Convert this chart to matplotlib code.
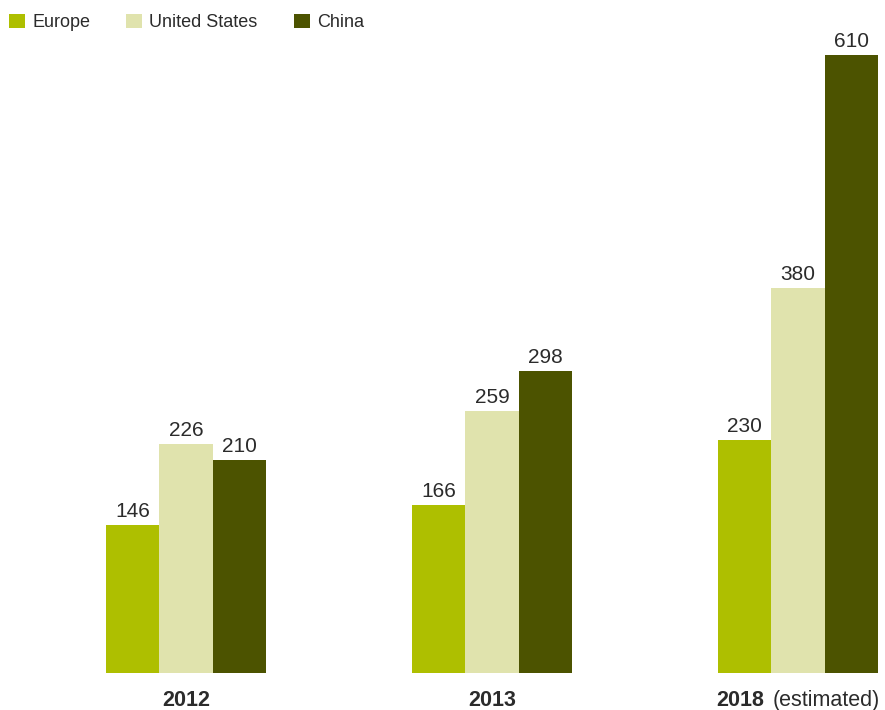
import matplotlib
matplotlib.use("Agg")
import matplotlib.pyplot as plt
from matplotlib.patches import Patch
from matplotlib.offsetbox import TextArea, HPacker, AnnotationBbox

plt.rcParams['font.family'] = ['Liberation Sans', 'DejaVu Sans']

# Data
years = ["2012", "2013", "2018"]
year_notes = ["", "", "(estimated)"]
regions = ["Europe", "United States", "China"]
europe = [146, 166, 230]
united_states = [226, 259, 380]
china = [210, 298, 610]

colors = ["#AEBF00", "#E0E3AD", "#4C5300"]
text_color = "#2b2b2b"

W, H = 885, 710
fig = plt.figure(figsize=(W / 100, H / 100), dpi=100)
fig.patch.set_facecolor("white")

base_px = 673
ax = fig.add_axes([0, (H - base_px) / H, 1, base_px / H])
ax.set_facecolor("white")

group_px = 306.0
first_px = 186.0
ax.set_xlim((0 - first_px) / group_px, (W - first_px) / group_px)
px_per_unit = (673 - 55) / 610.0
ax.set_ylim(0, base_px / px_per_unit)

for s in ax.spines.values():
    s.set_visible(False)
ax.set_xticks([])
ax.set_yticks([])

bar_w = 0.176
offsets = [-0.175, 0.0, 0.175]
series = [europe, united_states, china]
xs = list(range(len(years)))

for vals, off, col in zip(series, offsets, colors):
    pos = [x + off for x in xs]
    ax.bar(pos, vals, width=bar_w, color=col, linewidth=0, zorder=2)
    for p, v in zip(pos, vals):
        ax.annotate(str(v), xy=(p, v), xytext=(0, 5.8), textcoords="offset points",
                    ha="center", va="baseline", fontsize=15, color=text_color,
                    annotation_clip=False)

# Year labels (bold year with optional regular note)
for x, yr, note in zip(xs, years, year_notes):
    children = [TextArea(yr, textprops=dict(fontsize=15.5, fontweight="bold", color=text_color))]
    if note:
        children.append(TextArea(note, textprops=dict(fontsize=15.5, color=text_color)))
    box = HPacker(children=children, align="baseline", pad=0, sep=6)
    ab = AnnotationBbox(box, (x, 0), xycoords=("data", "axes fraction"),
                        xybox=(0, -12.5), boxcoords="offset points",
                        box_alignment=(0.5, 1), frameon=False,
                        annotation_clip=False)
    ax.add_artist(ab)

handles = [Patch(facecolor=c, edgecolor="none") for c in colors]
fig.legend(handles, regions, loc="upper left",
           bbox_to_anchor=(9 / W, 1 - 13.5 / H), ncol=3, frameon=False,
           fontsize=13, handlelength=0.89, handleheight=0.89,
           handletextpad=0.39, columnspacing=2.0, borderpad=0,
           borderaxespad=0, labelcolor=text_color)

fig.savefig("out.png", dpi=100, facecolor="white")
